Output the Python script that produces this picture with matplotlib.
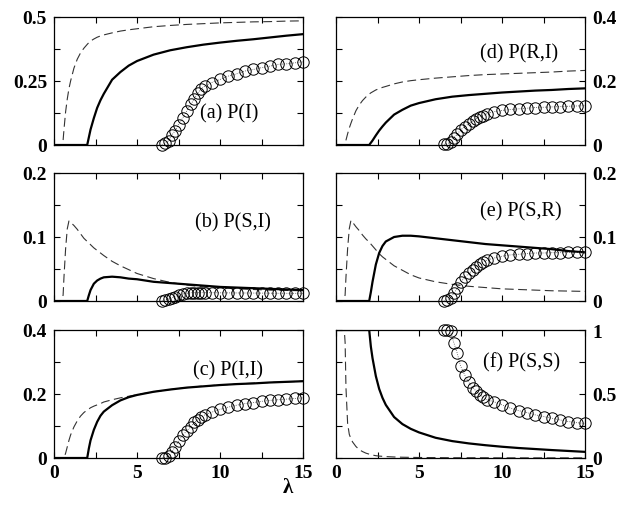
import numpy as np
import matplotlib
matplotlib.use("Agg")
import matplotlib.pyplot as plt

plt.rcParams["font.family"] = ["Liberation Serif", "DejaVu Serif"]

# lambda grid for the two analytic curves
lam_line = [0, 0.5, 0.55, 0.6, 0.7, 0.8, 0.9, 1.0, 1.2, 1.4, 1.6, 1.8, 2.0, 2.1, 2.2, 2.4,
            2.6, 2.8, 3.0, 3.5, 4.0, 4.5, 5.0, 6.0, 7.0, 8.0, 9.0, 10.0, 11.0, 12.0, 13.0, 14.0, 15.0]
# lambda values of the simulation points (circles)
lam_mc = [6.5, 6.7, 6.9, 7.1, 7.3, 7.5, 7.75, 8.0, 8.25, 8.45, 8.65, 8.85, 9.1, 9.5, 10.0,
          10.5, 11.0, 11.5, 12.0, 12.5, 13.0, 13.5, 14.0, 14.5, 15.0]

# (a) P(I)
a_dash = [0, 0, 0.02, 0.06, 0.13, 0.18, 0.22, 0.25, 0.30, 0.335, 0.36, 0.378, 0.393, 0.40, 0.406, 0.414,
          0.421, 0.426, 0.43, 0.438, 0.445, 0.45, 0.454, 0.462, 0.467, 0.471, 0.474, 0.477, 0.479, 0.481, 0.482, 0.484, 0.485]
a_solid = [0, 0, 0, 0, 0, 0, 0, 0, 0, 0, 0, 0, 0, 0.03, 0.06, 0.105,
           0.145, 0.175, 0.20, 0.255, 0.285, 0.31, 0.328, 0.353, 0.37, 0.382, 0.392, 0.40, 0.407, 0.413, 0.42, 0.427, 0.433]
a_mc = [0.0, 0.006, 0.016, 0.039, 0.056, 0.08, 0.105, 0.133, 0.159, 0.181, 0.202, 0.218, 0.231, 0.244, 0.256,
        0.269, 0.278, 0.289, 0.295, 0.302, 0.308, 0.315, 0.317, 0.321, 0.325]

# (b) P(S,I)
b_dash = [0, 0, 0.01, 0.037, 0.082, 0.113, 0.125, 0.123, 0.118, 0.112, 0.105, 0.098, 0.093, 0.091, 0.088, 0.083,
          0.079, 0.075, 0.071, 0.062, 0.055, 0.049, 0.043, 0.035, 0.029, 0.025, 0.022, 0.021, 0.019, 0.018, 0.017, 0.0165, 0.016]
b_solid = [0, 0, 0, 0, 0, 0, 0, 0, 0, 0, 0, 0, 0, 0.009, 0.017, 0.027,
           0.032, 0.035, 0.037, 0.038, 0.037, 0.035, 0.034, 0.030, 0.028, 0.026, 0.024, 0.022, 0.021, 0.020, 0.019, 0.018, 0.017]
b_mc = [0.0, 0.002, 0.003, 0.005, 0.007, 0.009, 0.011, 0.012, 0.013, 0.013, 0.013, 0.013, 0.013, 0.013, 0.0128,
        0.0127, 0.0126, 0.0125, 0.0124, 0.0123, 0.0122, 0.0121, 0.012, 0.012, 0.012]

# (c) P(I,I)
c_dash = [0, 0, 0, 0, 0.015, 0.035, 0.055, 0.072, 0.097, 0.116, 0.131, 0.142, 0.150, 0.153, 0.157, 0.162,
          0.166, 0.170, 0.175, 0.182, 0.188, 0.193, 0.198, 0.207, 0.214, 0.22, 0.225, 0.228, 0.231, 0.234, 0.236, 0.238, 0.24]
c_solid = [0, 0, 0, 0, 0, 0, 0, 0, 0, 0, 0, 0, 0, 0.03, 0.055, 0.088,
           0.113, 0.132, 0.145, 0.165, 0.18, 0.19, 0.197, 0.207, 0.214, 0.22, 0.224, 0.228, 0.231, 0.233, 0.236, 0.238, 0.24]
c_mc = [0.0, 0.001, 0.006, 0.019, 0.035, 0.053, 0.071, 0.085, 0.098, 0.111, 0.119, 0.128, 0.135, 0.143, 0.152,
        0.159, 0.165, 0.170, 0.173, 0.177, 0.180, 0.182, 0.184, 0.186, 0.188]

# (d) P(R,I)
d_dash = [0, 0, 0.003, 0.015, 0.035, 0.053, 0.068, 0.082, 0.107, 0.125, 0.139, 0.15, 0.159, 0.163, 0.166, 0.172,
          0.176, 0.18, 0.183, 0.191, 0.197, 0.201, 0.204, 0.209, 0.213, 0.217, 0.22, 0.222, 0.224, 0.226, 0.228, 0.231, 0.233]
d_solid = [0, 0, 0, 0, 0, 0, 0, 0, 0, 0, 0, 0, 0, 0.007, 0.014, 0.03,
           0.045, 0.058, 0.07, 0.095, 0.11, 0.123, 0.131, 0.143, 0.151, 0.156, 0.16, 0.164, 0.167, 0.17, 0.172, 0.175, 0.177]
d_mc = [0.002, 0.004, 0.009, 0.023, 0.033, 0.047, 0.057, 0.067, 0.075, 0.082, 0.088, 0.092, 0.098, 0.104, 0.108,
        0.111, 0.113, 0.115, 0.117, 0.118, 0.119, 0.120, 0.121, 0.122, 0.123]

# (e) P(S,R)
e_dash = [0, 0, 0.01, 0.037, 0.082, 0.113, 0.126, 0.123, 0.116, 0.11, 0.103, 0.097, 0.092, 0.089, 0.086, 0.08,
          0.074, 0.069, 0.065, 0.055, 0.048, 0.041, 0.036, 0.03, 0.026, 0.023, 0.021, 0.019, 0.018, 0.017, 0.016, 0.0155, 0.015]
e_solid = [0, 0, 0, 0, 0, 0, 0, 0, 0, 0, 0, 0, 0, 0.014, 0.03, 0.057,
           0.075, 0.086, 0.093, 0.1, 0.102, 0.102, 0.101, 0.098, 0.095, 0.092, 0.089, 0.087, 0.085, 0.083, 0.081, 0.078, 0.076]
e_mc = [0.0, 0.002, 0.005, 0.012, 0.020, 0.029, 0.037, 0.043, 0.048, 0.053, 0.058, 0.061, 0.064, 0.067, 0.070,
        0.072, 0.073, 0.074, 0.075, 0.075, 0.0755, 0.0755, 0.076, 0.076, 0.076]

# (f) P(S,S)
f_dash = [1.0, 1.0, 0.9, 0.55, 0.27, 0.185, 0.15, 0.125, 0.09, 0.065, 0.05, 0.038, 0.03, 0.027, 0.023, 0.018,
          0.015, 0.013, 0.011, 0.008, 0.006, 0.005, 0.004, 0.003, 0.002, 0.002, 0.002, 0.001, 0.001, 0.001, 0.001, 0.001, 0.001]
f_solid = [1, 1, 1, 1, 1, 1, 1, 1, 1, 1, 1, 1, 1.0, 0.87, 0.78, 0.64,
           0.54, 0.47, 0.415, 0.32, 0.265, 0.228, 0.2, 0.158, 0.132, 0.114, 0.1, 0.088, 0.078, 0.07, 0.062, 0.055, 0.048]
f_mc = [1.0, 1.0, 0.99, 0.90, 0.82, 0.72, 0.65, 0.59, 0.55, 0.52, 0.495, 0.476, 0.455, 0.44, 0.415,
        0.39, 0.37, 0.355, 0.337, 0.324, 0.311, 0.297, 0.285, 0.276, 0.27]

panel_labels = ["(a) P(I)", "(b) P(S,I)", "(c) P(I,I)", "(d) P(R,I)", "(e) P(S,R)", "(f) P(S,S)"]
ymax = [0.5, 0.2, 0.4, 0.4, 0.2, 1.0]
ytick_labels = [["0", "0.25", "0.5"], ["0", "0.1", "0.2"], ["0", "0.2", "0.4"],
                ["0", "0.2", "0.4"], ["0", "0.1", "0.2"], ["0", "0.5", "1"]]
xtick_labels = ["0", "5", "10", "15"]

dash_data = [a_dash, b_dash, c_dash, d_dash, e_dash, f_dash]
solid_data = [a_solid, b_solid, c_solid, d_solid, e_solid, f_solid]
mc_data = [a_mc, b_mc, c_mc, d_mc, e_mc, f_mc]

# label position in axes fraction
label_pos = [(0.585, 0.25), (0.565, 0.62), (0.56, 0.69), (0.58, 0.72), (0.58, 0.705), (0.59, 0.75)]

fig = plt.figure(figsize=(6.21, 5.06), dpi=100)
col_x = [54 / 621, 336 / 621]
row_y = [(506 - 146) / 506, (506 - 302) / 506, (506 - 459) / 506]
w = 249 / 621
h = 128 / 506

tick_font = dict(family="Liberation Serif", weight="bold", size=14)

for i in range(6):
    col = i // 3
    row = i % 3
    ax = fig.add_axes([col_x[col], row_y[row], w, h])
    ax.plot(lam_line, dash_data[i], color="0.2", lw=0.8, linestyle=(0, (8, 4)))
    ax.plot(lam_line, solid_data[i], color="black", lw=1.6)
    ax.plot(lam_mc, mc_data[i], color="0.3", lw=0.6, linestyle=":", marker="o", ms=8.2,
            mfc="none", mec="black", mew=0.7, clip_on=False, zorder=5)

    ax.set_xlim(0, 15)
    ax.set_ylim(0, ymax[i])
    ax.set_xticks([0, 5, 10, 15])
    ax.set_xticks([2.5, 7.5, 12.5], minor=True)
    ax.set_yticks([0, ymax[i] / 2, ymax[i]])
    ax.set_yticks([ymax[i] / 4, 3 * ymax[i] / 4], minor=True)
    ax.tick_params(which="both", direction="in", length=4, width=0.8, top=True, right=True)
    for s in ax.spines.values():
        s.set_linewidth(0.9)

    ax.set_yticklabels(ytick_labels[i], fontdict=tick_font)
    if col == 1:
        ax.tick_params(axis="y", labelleft=False, labelright=True, pad=5)
    else:
        ax.tick_params(axis="y", pad=5)
    if row == 2:
        ax.set_xticklabels(xtick_labels, fontdict=tick_font)
        ax.tick_params(axis="x", pad=4)
    else:
        ax.tick_params(axis="x", labelbottom=False)

    ax.text(label_pos[i][0], label_pos[i][1], panel_labels[i], transform=ax.transAxes,
            ha="left", va="center", fontsize=14.5, family="Liberation Serif")

fig.text(288 / 621, 1 - 488 / 506, "λ", ha="center", va="center",
         fontsize=15, weight="bold", family="Liberation Serif")

fig.savefig("out.png", dpi=100)
